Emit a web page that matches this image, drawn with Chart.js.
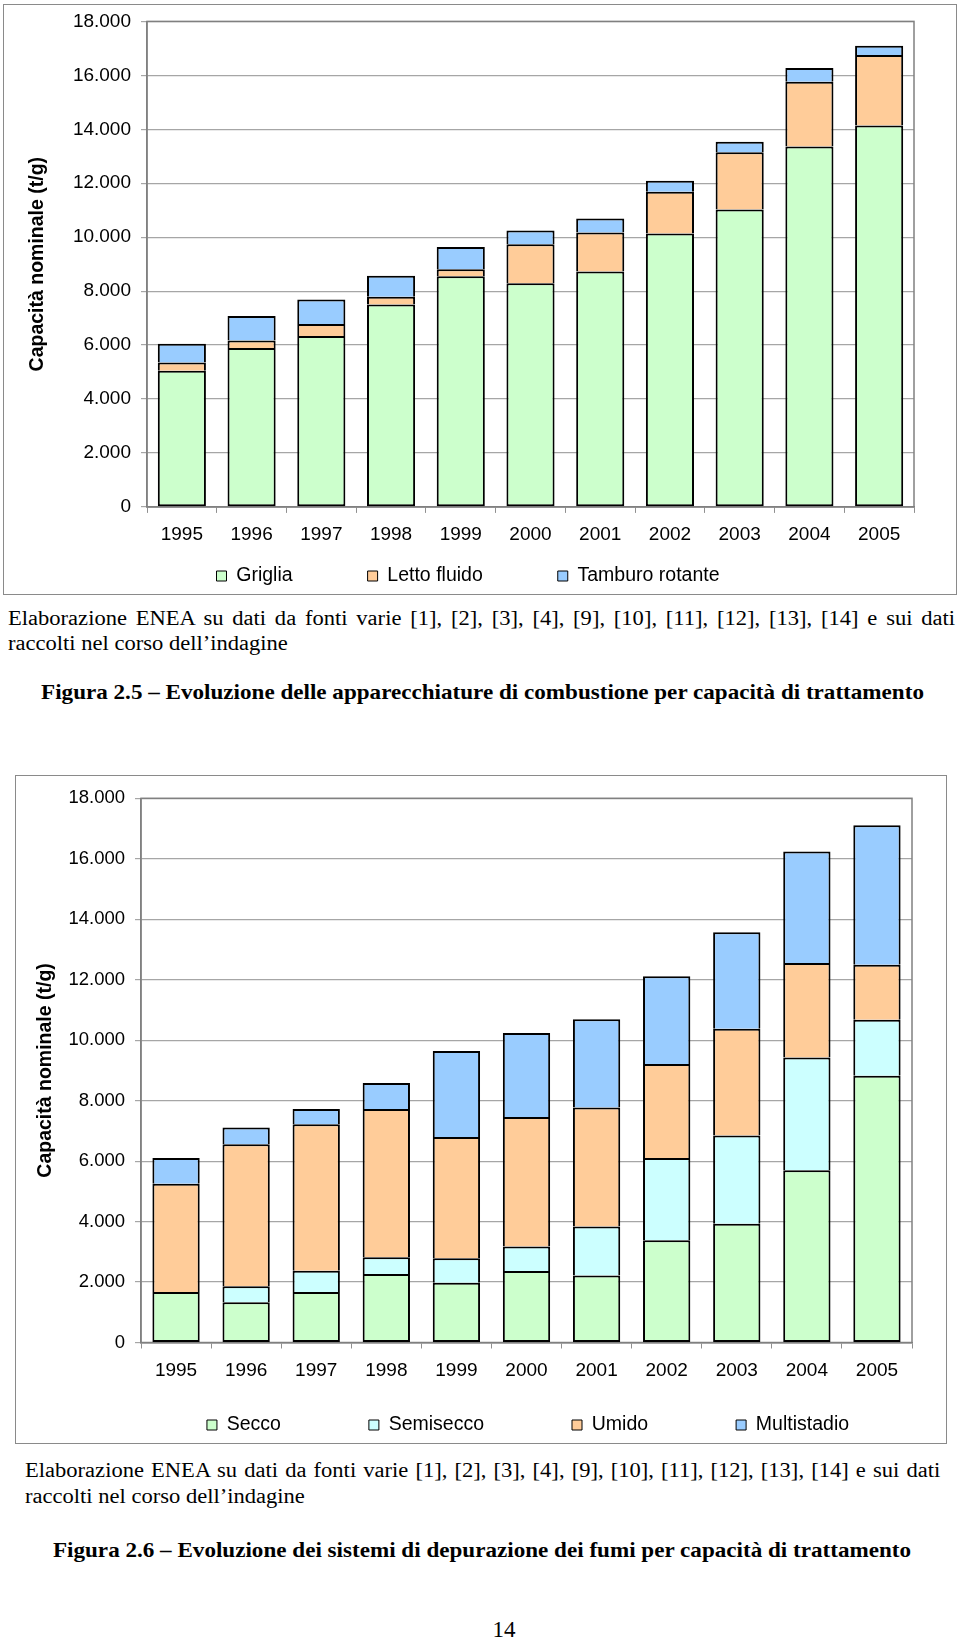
<!DOCTYPE html>
<html lang="it">
<head>
<meta charset="utf-8">
<title>Figure 2.5 - 2.6</title>
<script src="https://cdn.jsdelivr.net/npm/chart.js@4.4.1/dist/chart.umd.min.js"></script>
<style>
    html, body { margin: 0; padding: 0; background: #fff; }
    #page { position: relative; width: 960px; height: 1641px; overflow: hidden; }
    .box { position: absolute; border: 1.5px solid #8a8a8a; box-sizing: border-box; }
    .wrap { position: absolute; left: 0; width: 960px; }
    .txt {
        position: absolute;
        font-family: 'Liberation Serif', 'Times New Roman', serif;
        font-size: 20.5px;
        line-height: 25px;
        color: #000;
        white-space: nowrap;
        transform: scaleX(1.1);
        transform-origin: left top;
    }
    .just { text-align: justify; text-align-last: justify; }
    .fig { font-weight: bold; font-size: 21px; text-align: center; transform-origin: center top; }
</style>
</head>
<body>
<div id="page">
    <div class="box" style="left:3px;top:4px;width:954px;height:591px"></div>
    <div class="wrap" style="top:0;height:596px"><canvas id="chart-combustione"></canvas></div>

    <!-- larghezze divise per 1.1 (scaleX) -->
    <div class="txt just" style="left:8px;top:606px;width:861px">Elaborazione ENEA su dati da fonti varie [1], [2], [3], [4], [9], [10], [11], [12], [13], [14] e sui dati</div>
    <div class="txt" style="left:8px;top:631px">raccolti nel corso dell’indagine</div>
    <div class="txt fig" style="left:0;top:680px;width:965px">Figura 2.5 – Evoluzione delle apparecchiature di combustione per capacità di trattamento</div>

    <div class="box" style="left:15px;top:775px;width:932px;height:669px"></div>
    <div class="wrap" style="top:760px;height:690px"><canvas id="chart-depurazione"></canvas></div>

    <div class="txt just" style="left:25px;top:1458px;width:832px">Elaborazione ENEA su dati da fonti varie [1], [2], [3], [4], [9], [10], [11], [12], [13], [14] e sui dati</div>
    <div class="txt" style="left:25px;top:1484px">raccolti nel corso dell’indagine</div>
    <div class="txt fig" style="left:0;top:1538px;width:964px">Figura 2.6 – Evoluzione dei sistemi di depurazione dei fumi per capacità di trattamento</div>

    <div class="txt" style="left:482px;top:1617px;width:44px;text-align:center;font-size:23px;transform:none">14</div>
</div>

<script>
// anni (asse x, comune ai due grafici)
const anni = ['1995', '1996', '1997', '1998', '1999', '2000', '2001', '2002', '2003', '2004', '2005']

// Figura 2.5 - apparecchiature di combustione (t/g)
const griglia = [5050, 5890, 6340, 7500, 8555, 8290, 8730, 10140, 11030, 13360, 14140]
const lettoFluido = [300, 280, 445, 290, 255, 1450, 1445, 1540, 2115, 2400, 2615]
const tamburoRotante = [700, 905, 905, 780, 830, 510, 520, 410, 395, 510, 345]

// Figura 2.6 - sistemi di depurazione dei fumi (t/g)
const secco = [1670, 1330, 1670, 2265, 1975, 2365, 2215, 3380, 3925, 5695, 8825]
const semisecco = [0, 530, 700, 555, 810, 810, 1620, 2720, 2925, 3735, 1850]
const umido = [3580, 4700, 4850, 4900, 4010, 4280, 3935, 3115, 3530, 3125, 1820]
const multistadio = [850, 555, 505, 860, 2850, 2785, 2925, 2900, 3190, 3685, 4610]

const yMax = 18000
const yStep = 2000
const titoloY = 'Capacità nominale (t/g)'

Chart.defaults.font.family = "'Liberation Sans', Arial, sans-serif"
Chart.defaults.color = '#000'

// 18000 -> "18.000"
function migliaia(v) {
    return String(v).replace(/\B(?=(\d{3})+(?!\d))/g, '.')
}

// cornice grigia dell'area del grafico
const cornice = {
    id: 'cornice',
    beforeDatasetsDraw(chart) {
        const { ctx, chartArea: a } = chart
        ctx.save()
        ctx.strokeStyle = '#808080'
        ctx.lineWidth = 1.5
        ctx.strokeRect(a.left, a.top, a.right - a.left, a.bottom - a.top)
        ctx.restore()
    },
}

// sposta la legenda come nell'originale (dx orizzontale, y = centro delle voci)
const spostaLegenda = {
    id: 'spostaLegenda',
    afterLayout(chart, args, opts) {
        const lg = chart.legend
        if (!lg) return
        const lab = lg.options.labels
        const item = Math.max(lab.font.size, lab.boxHeight)
        lg.left += opts.dx
        lg.right += opts.dx
        lg.top = opts.y - item / 2 - lab.padding
        lg.bottom = opts.y + item / 2 + 4
        lg.height = lg.bottom - lg.top
    },
}

function dataset(label, data, color, first) {
    return {
        label: label,
        data: data,
        backgroundColor: color,
        borderColor: '#000',
        borderWidth: 2,
        borderSkipped: first ? false : 'start',
        barPercentage: 1,
        categoryPercentage: 1,
    }
}

function creaGrafico(id, datasets, s) {
    datasets.forEach((d) => (d.barPercentage = s.bar))
    return new Chart(document.getElementById(id), {
        type: 'bar',
        data: { labels: anni, datasets: datasets },
        plugins: [cornice, spostaLegenda],
        options: {
            responsive: true,
            maintainAspectRatio: false,
            animation: false,
            layout: { padding: s.padding },
            scales: {
                x: {
                    stacked: true,
                    grid: {
                        drawOnChartArea: false,
                        offset: true,
                        tickLength: 6,
                        color: '#909090',
                    },
                    border: { color: '#808080', width: 1.5 },
                    ticks: {
                        font: { size: 19 },
                        padding: s.xPad,
                        maxRotation: 0,
                        autoSkip: false,
                    },
                    afterFit: (scale) => {
                        scale.height = s.xHeight
                    },
                },
                y: {
                    stacked: true,
                    min: 0,
                    max: yMax,
                    grid: { color: '#a6a6a6', lineWidth: 1.2, tickLength: 6 },
                    border: { color: '#808080', width: 1.5 },
                    ticks: {
                        stepSize: yStep,
                        font: { size: s.yFont },
                        padding: 10,
                        callback: (v) => migliaia(v),
                    },
                    title: {
                        display: true,
                        text: titoloY,
                        font: { size: 19.5, weight: 'bold' },
                        padding: { top: s.titlePad, bottom: 0 },
                    },
                    afterFit: (scale) => {
                        scale.width = s.yWidth
                    },
                },
            },
            plugins: {
                tooltip: { enabled: false },
                spostaLegenda: { dx: s.legendDx, y: s.legendY },
                legend: {
                    position: 'bottom',
                    maxHeight: 30,
                    labels: {
                        boxWidth: 10,
                        boxHeight: 10,
                        padding: s.legendPad,
                        font: { size: 19.5 },
                        generateLabels: (chart) =>
                            Chart.defaults.plugins.legend.labels
                                .generateLabels(chart)
                                .map((it) => Object.assign(it, { lineWidth: 1 })),
                    },
                },
            },
        },
    })
}

creaGrafico(
    'chart-combustione',
    [
        dataset('Griglia', griglia, '#CCFFCC', true),
        dataset('Letto fluido', lettoFluido, '#FFCC99'),
        dataset('Tamburo rotante', tamburoRotante, '#99CCFF'),
    ],
    {
        bar: 0.69,
        padding: { top: 20.7, right: 46, bottom: 17.1, left: 0 },
        xPad: 10,
        xHeight: 42,
        yFont: 19,
        yWidth: 147,
        titlePad: 26,
        legendPad: 75,
        legendDx: 11,
        legendY: 576,
    }
)

creaGrafico(
    'chart-depurazione',
    [
        dataset('Secco', secco, '#CCFFCC', true),
        dataset('Semisecco', semisecco, '#CCFFFF'),
        dataset('Umido', umido, '#FFCC99'),
        dataset('Multistadio', multistadio, '#99CCFF'),
    ],
    {
        bar: 0.675,
        padding: { top: 38.3, right: 48, bottom: 35.5, left: 0 },
        xPad: 11,
        xHeight: 42,
        yFont: 18.5,
        yWidth: 141,
        titlePad: 33.5,
        legendPad: 88,
        legendDx: 72,
        legendY: 665,
    }
)
</script>
</body>
</html>
